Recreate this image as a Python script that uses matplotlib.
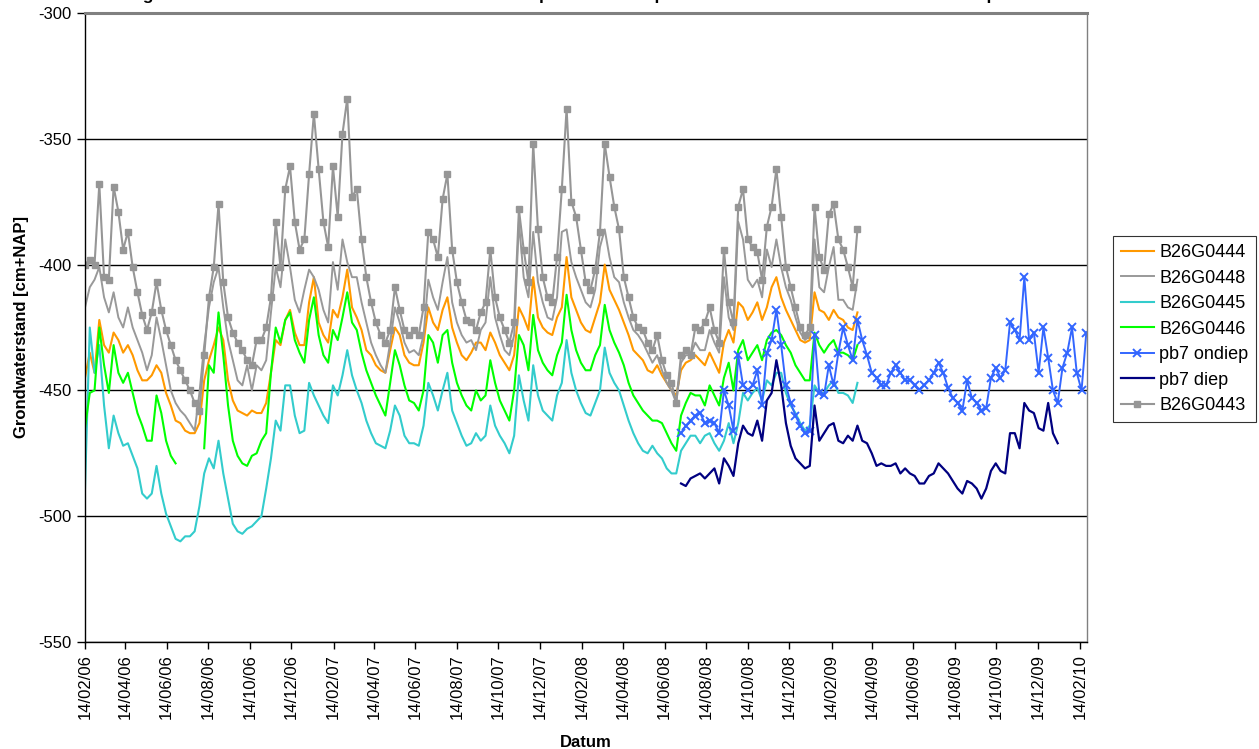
import numpy as np
import pandas as pd
import matplotlib
matplotlib.use("Agg")
import matplotlib.pyplot as plt
import matplotlib.dates as mdates

plt.rcParams['font.family'] = ['Liberation Sans', 'DejaVu Sans']
plt.rcParams['axes.unicode_minus'] = False

# weekly readings, first reading 14/02/2006
start = pd.Timestamp('2006-02-14')

b26g0443 = [
    -400, -398, -400, -368, -405, -406, -369, -379, -394, -387,
    -401, -411, -420, -426, -419, -407, -418, -426, -432, -438,
    -442, -446, -450, -455, -458, -436, -413, -401, -376, -407,
    -421, -427, -431, -434, -438, -440, -430, -430, -425, -413,
    -383, -401, -370, -361, -383, -394,
    -390, -364, -340, -362, -383, -393, -361, -381, -348, -334,
    -373, -370, -390, -405, -415, -423, -428, -431, -426, -409,
    -418, -426, -428, -426, -428, -417, -387, -390, -397, -374,
    -364, -394, -407, -415, -422, -423, -426, -419, -415, -394,
    -413, -421, -426, -431, -423, -378,
    -394, -407, -352, -386, -405, -413, -415, -397, -370, -338,
    -375, -381, -394, -407, -410, -402, -387, -352, -365, -377,
    -386, -405, -413, -421, -425, -426, -431, -434, -428, -438,
    -444, -447, -455, -436, -434, -436, -425, -426, -423, -417,
    -426, -431, -394, -415, -423, -377,
    -370, -390, -393, -395, -406, -385, -377, -362, -381, -401,
    -409, -417, -425, -428, -425, -377, -397, -402, -380, -376,
    -390, -394, -401, -409, -386]

b26g0448 = [
    -417, -409, -406, -401, -413, -419, -411, -421, -425, -417,
    -425, -430, -435, -442, -436, -421, -430, -440, -450, -455,
    -458, -460, -463, -466, -451, -432, -417, -407, -401, -417,
    -430, -438, -446, -448, -440, -450, -440, -442, -438, -419,
    -401, -409, -390, -401, -414, -419,
    -410, -402, -405, -410, -418, -423, -399, -410, -390, -399,
    -405, -405, -415, -423, -431, -436, -440, -443, -431, -417,
    -423, -431, -435, -434, -436, -428, -406, -413, -418, -407,
    -397, -415, -423, -428, -431, -430, -434, -426, -423, -405,
    -421, -428, -434, -436, -428, -383,
    -405, -413, -387, -407, -415, -421, -422, -413, -387, -386,
    -399, -405, -410, -415, -417, -410, -393, -386, -397, -405,
    -407, -415, -421, -426, -428, -431, -435, -439, -436, -442,
    -447, -450, -455, -439, -436, -436, -431, -434, -434, -426,
    -431, -435, -405, -421, -426, -383,
    -390, -406, -409, -406, -413, -394, -401, -390, -401, -409,
    -414, -421, -427, -430, -428, -390, -409, -411, -401, -393,
    -414, -414, -417, -418, -406]

b26g0444 = [
    -445, -435, -443, -422, -432, -435, -427, -430, -435, -432,
    -436, -442, -446, -446, -444, -440, -443, -451, -456, -462,
    -463, -466, -467, -467, -463, -446, -438, -432, -425, -430,
    -446, -454, -458, -459, -460, -458, -459, -459, -455, -443,
    -430, -432, -422, -418, -427, -432,
    -432, -415, -405, -423, -428, -431, -418, -421, -413, -402,
    -417, -421, -426, -434, -436, -440, -442, -443, -434, -425,
    -428, -436, -439, -440, -440, -431, -417, -423, -426, -418,
    -413, -425, -431, -436, -438, -435, -431, -431, -434, -427,
    -431, -436, -439, -442, -436, -417,
    -421, -426, -405, -421, -425, -427, -428, -421, -417, -397,
    -413, -418, -423, -426, -427, -421, -415, -400, -410, -414,
    -418, -423, -428, -434, -436, -438, -442, -443, -440, -444,
    -447, -450, -452, -442, -439, -438, -436, -438, -440, -435,
    -439, -443, -431, -426, -431, -415,
    -417, -422, -419, -415, -422, -417, -409, -405, -413, -418,
    -422, -426, -430, -431, -430, -411, -418, -419, -422, -418,
    -421, -422, -425, -426, -419]

b26g0446 = [
    -465, -451, -450, -425, -440, -451, -432, -443, -447, -443,
    -451, -459, -464, -470, -470, -452, -459, -470, -476, -479,
    np.nan, np.nan, np.nan, np.nan, np.nan, -473, -440, -443, -419, -436,
    -456, -470, -476, -479, -480, -476, -475, -470, -467, -443,
    -425, -431, -422, -419, -430, -435,
    -439, -422, -413, -428, -436, -439, -426, -430, -421, -411,
    -423, -426, -435, -442, -447, -452, -456, -460, -447, -434,
    -440, -448, -454, -455, -458, -450, -428, -431, -439, -428,
    -426, -439, -447, -452, -456, -458, -450, -454, -452, -438,
    -447, -454, -458, -462, -450, -428,
    -432, -442, -420, -434, -439, -442, -444, -436, -431, -412,
    -426, -434, -439, -442, -442, -436, -432, -416, -426, -431,
    -435, -440, -447, -452, -455, -458, -460, -462, -462, -463,
    -467, -471, -474, -460, -455, -451, -452, -452, -456, -448,
    -452, -456, -445, -439, -450, -434,
    -430, -438, -435, -432, -438, -430, -427, -426, -428, -432,
    -435, -440, -443, -446, -446, -427, -432, -435, -432, -430,
    -435, -435, -436, -438, -432]

b26g0445 = [
    -489, -425, -443, -432, -456, -473, -460, -467, -472, -471,
    -476, -481, -491, -493, -491, -480, -491, -499, -504, -509,
    -510, -508, -508, -506, -496, -483, -477, -481, -470, -483,
    -493, -503, -506, -507, -505, -504, -502, -500, -489, -477,
    -462, -466, -448, -448, -460, -467,
    -466, -447, -452, -456, -460, -463, -448, -452, -444, -434,
    -444, -450, -455, -462, -467, -471, -472, -473, -466, -456,
    -460, -468, -471, -471, -472, -464, -447, -452, -458, -450,
    -443, -458, -463, -468, -472, -471, -467, -470, -468, -456,
    -464, -468, -471, -475, -468, -444,
    -454, -462, -440, -452, -458, -460, -462, -452, -447, -430,
    -443, -450, -455, -459, -460, -455, -450, -433, -443, -447,
    -450, -456, -462, -467, -471, -474, -475, -472, -475, -477,
    -481, -483, -483, -474, -471, -468, -468, -471, -468, -467,
    -471, -474, -470, -463, -471, -463,
    -451, -454, -451, -449, -454, -446, -448, -443, -443, -451,
    -456, -459, -463, -466, -464, -448, -451, -451, -448, -446,
    -451, -451, -452, -455, -447]

# pb7 readings start at week 125
pb7_start_week = 125
pb7_ondiep = [
    -467, -464, -462, -460, -459, -463, -462, -463, -467, -450, -456, -466, -436,
    -448, -450, -448, -442, -456, -435, -430, -418, -432, -448, -455, -460, -464,
    -467, -466, -428, -451, -452, -440, -448, -435, -425, -432, -438, -422,
    -430, -436, -443, -445, -448, -448, -443, -440, -443, -446, -446, -448, -450,
    -448, -446, -443, -439,
    -443, -449, -453, -455, -458, -446, -453, -455, -458, -457, -445, -441, -445,
    -442, -423, -426, -430, -405, -430, -427, -443, -425, -437, -450, -455, -441,
    -435, -425, -443, -450, -427]

pb7_diep = [
    -487, -488, -485, -484, -483, -485, -483, -481, -487, -477, -480, -484, -471,
    -464, -467, -468, -462, -470, -454, -451, -438, -448, -463, -472, -477, -479,
    -481, -480, -456, -470, -467, -464, -463, -470, -471, -468, -470, -464,
    -470, -471, -475, -480, -479, -480, -480, -479, -483, -481, -483, -484, -487,
    -487, -484, -483, -479,
    -481, -483, -486, -489, -491, -486, -487, -489, -493, -489, -482, -479, -482,
    -483, -467, -467, -473, -455, -458, -459, -465, -466, -455, -467, -471]

# ticks on the 14th, every two months
tick_dates = pd.date_range('2006-02-01', '2010-02-01', freq='2MS') + pd.Timedelta(days=13)


def weeks(first, n):
    return [start + pd.Timedelta(days=7 * (first + i)) for i in range(n)]


fig = plt.figure(figsize=(12.59, 7.49), dpi=100)
ax = fig.add_axes([85 / 1259, 1 - 642 / 749, (1087 - 85) / 1259, (642 - 13) / 749])

d_b26 = weeks(0, len(b26g0443))
ax.plot(d_b26, b26g0444, color='#FF9900', lw=1.5, label='B26G0444')
ax.plot(d_b26, b26g0448, color='#999999', lw=1.4, label='B26G0448')
ax.plot(d_b26, b26g0445, color='#33CCCC', lw=1.5, label='B26G0445')
ax.plot(d_b26, b26g0446, color='#00FF00', lw=1.5, label='B26G0446')
ax.plot(weeks(pb7_start_week, len(pb7_ondiep)), pb7_ondiep, color='#3366FF', lw=1.4,
        marker='x', ms=5.5, mew=1.4, label='pb7 ondiep')
ax.plot(weeks(pb7_start_week, len(pb7_diep)), pb7_diep, color='#000080', lw=1.6,
        label='pb7 diep')
ax.plot(d_b26, b26g0443, color='#969696', lw=1.5, marker='s', ms=4,
        label='B26G0443')

ax.set_ylim(-550, -300)
ax.set_yticks(np.arange(-550, -299, 50))
ax.set_xlim(start, start + pd.Timedelta(days=1471))
ax.set_xticks(tick_dates)
ax.xaxis.set_major_formatter(mdates.DateFormatter('%d/%m/%y'))
ax.tick_params(axis='x', labelrotation=90, labelsize=12, direction='out', length=5, width=1)
ax.tick_params(axis='y', labelsize=12, direction='out', length=6, width=1)

ax.yaxis.grid(True, color='black', lw=1)
ax.set_axisbelow(True)
for s in ('left', 'bottom'):
    ax.spines[s].set_color('black')
    ax.spines[s].set_linewidth(1)
ax.spines['top'].set_color('#808080')
ax.spines['top'].set_linewidth(2.2)
ax.spines['right'].set_color('#808080')
ax.spines['right'].set_linewidth(1)

ax.set_ylabel('Grondwaterstand [cm+NAP]', fontsize=12, fontweight='bold', labelpad=7)
ax.set_xlabel('Datum', fontsize=12, fontweight='bold', labelpad=12)

leg = ax.legend(loc='upper left', bbox_to_anchor=(1113 / 1259, 1 - 236 / 749),
                bbox_transform=fig.transFigure, borderaxespad=0, frameon=True,
                fancybox=False, fontsize=13, handlelength=1.8, labelspacing=0.47,
                handletextpad=0.3, borderpad=0.45)
leg.get_frame().set_edgecolor('black')
leg.get_frame().set_linewidth(0.8)

# title sits above the top edge, only the descenders show
fig.text(578 / 1259, 1.0,
         'Alle grondwaterstanden B26G0443 tot B26G0448 en peilbuizen en pb7 met de meetresultaten van de ondiepe filter',
         ha='center', va='baseline', fontsize=12.5, fontweight='bold')

fig.savefig('out.png', dpi=100)
